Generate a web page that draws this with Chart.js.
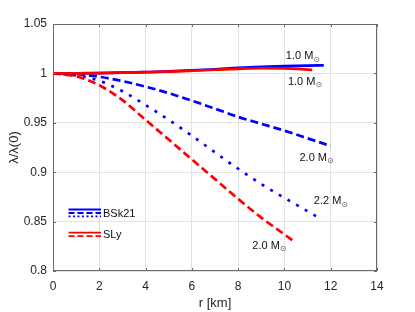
<!DOCTYPE html>
<html>
<head>
<meta charset="utf-8">
<script src="https://cdn.jsdelivr.net/npm/chart.js@4/dist/chart.umd.min.js"></script>
<style>
html,body{margin:0;padding:0;background:#fff;}
#wrap{width:415px;height:312px;}
</style>
</head>
<body>
<div id="wrap"><canvas id="c" width="415" height="312"></canvas></div>
<script>
// ---- data ----
const xTicks = [0, 2, 4, 6, 8, 10, 12, 14];
const yTicks = [0.8, 0.85, 0.9, 0.95, 1, 1.05];

const bsk10R = [0, 1, 2, 3, 4, 5, 6, 7, 8, 9, 10, 11, 11.7];
const bsk10V = [1, 1.0001, 1.0003, 1.0007, 1.0013, 1.0020, 1.0030, 1.0042, 1.0055, 1.0066, 1.0074, 1.0079, 1.0081];

const sly10R = [0, 1, 2, 3, 4, 5, 6, 7, 8, 9, 10, 10.7, 11.2];
const sly10V = [1, 1.0001, 1.0003, 1.0007, 1.0012, 1.0018, 1.0027, 1.0037, 1.0046, 1.0052, 1.0050, 1.0043, 1.0035];

const bsk20R = [0, 1, 2, 3, 4, 5, 6, 7, 8, 9, 10, 11, 12];
const bsk20V = [1, 0.9992, 0.9966, 0.9922, 0.9866, 0.9800, 0.9724, 0.9643, 0.9560, 0.9490, 0.9420, 0.9343, 0.9266];

const bsk22R = [0, 1, 2, 3, 4, 5, 6, 7, 8, 9, 10, 11, 11.4];
const bsk22V = [1, 0.9980, 0.9925, 0.9820, 0.9680, 0.9530, 0.9370, 0.9200, 0.9035, 0.8880, 0.8740, 0.8605, 0.8550];

const sly20R = [0, 1, 2, 3, 4, 5, 6, 7, 8, 9, 10, 10.46];
const sly20V = [1, 0.9970, 0.9880, 0.9730, 0.9530, 0.9330, 0.9130, 0.8930, 0.8730, 0.8540, 0.8370, 0.8290];

const curveLabels = ['1.0 M', '1.0 M', '2.0 M', '2.2 M', '2.0 M'];
const labelR = [10.80, 10.89, 11.39, 12.01, 9.35];
const labelV = [1.0175, 0.9915, 0.9148, 0.8705, 0.8255];

const legendNames = ['BSk21', 'SLy'];

// ---- helpers ----
const pts = (rs, vs) => rs.map((r, i) => ({x: r, y: vs[i]}));
const BLUE = '#0000ff', RED = '#ff0000';
const FONT = '"Liberation Sans", Arial, Helvetica, sans-serif';
const TXT = '#262626';

function ds(label, rs, vs, color, dash) {
  return {
    label, data: pts(rs, vs), borderColor: color, backgroundColor: color,
    borderWidth: 2.7, borderDash: dash, borderCapStyle: 'butt',
    pointRadius: 0, cubicInterpolationMode: 'monotone', fill: false
  };
}

const framePlugin = {
  id: 'frame',
  afterDatasetsDraw(chart) {
    const {ctx, chartArea: a, scales: {x, y}} = chart;
    ctx.save();
    ctx.strokeStyle = '#6a6a6a';
    ctx.lineWidth = 1;
    ctx.strokeRect(a.left + 0.5, a.top + 0.5, a.right - a.left - 1, a.bottom - a.top - 1);
    ctx.beginPath();
    const tl = 3;
    x.ticks.forEach(t => {
      const p = Math.round(x.getPixelForValue(t.value)) + 0.5;
      ctx.moveTo(p, a.bottom); ctx.lineTo(p, a.bottom - tl);
      ctx.moveTo(p, a.top); ctx.lineTo(p, a.top + tl);
    });
    y.ticks.forEach(t => {
      const p = Math.round(y.getPixelForValue(t.value)) + 0.5;
      ctx.moveTo(a.left, p); ctx.lineTo(a.left + tl, p);
      ctx.moveTo(a.right, p); ctx.lineTo(a.right - tl, p);
    });
    ctx.stroke();

    // curve annotations (text with solar symbol subscript)
    curveLabels.forEach((txt, i) => {
      const cx = x.getPixelForValue(labelR[i]);
      const cy = y.getPixelForValue(labelV[i]);
      ctx.font = '11px ' + FONT;
      const w1 = ctx.measureText(txt).width;
      ctx.font = '8px "DejaVu Sans", sans-serif';
      const w2 = ctx.measureText('\u2299').width;
      const sx = cx - (w1 + w2) / 2;
      ctx.fillStyle = '#111';
      ctx.textBaseline = 'middle';
      ctx.textAlign = 'left';
      ctx.font = '11px ' + FONT;
      ctx.fillText(txt, sx, cy);
      ctx.fillStyle = '#555';
      ctx.font = '8px "DejaVu Sans", sans-serif';
      ctx.fillText('\u2299', sx + w1, cy + 3.5);
    });

    // custom legend
    const lx0 = a.left + 15.5, lx1 = a.left + 48;
    const rows = [
      {y: 209.5, c: BLUE, d: []}, {y: 213, c: BLUE, d: [6, 3]}, {y: 216.3, c: BLUE, d: [2, 2.5]},
      {y: 232.7, c: RED, d: []}, {y: 236.2, c: RED, d: [6, 3]}
    ];
    ctx.lineCap = 'butt';
    rows.forEach(r => {
      ctx.beginPath();
      ctx.strokeStyle = r.c;
      ctx.lineWidth = 1.8;
      ctx.setLineDash(r.d);
      ctx.moveTo(lx0, r.y); ctx.lineTo(lx1, r.y);
      ctx.stroke();
    });
    ctx.setLineDash([]);
    ctx.fillStyle = '#111';
    ctx.font = '11px ' + FONT;
    ctx.textBaseline = 'middle';
    ctx.fillText(legendNames[0], lx1 + 2, 213.5);
    ctx.fillText(legendNames[1], lx1 + 2, 235);
    ctx.restore();
  }
};

new Chart(document.getElementById('c'), {
  type: 'line',
  data: {
    datasets: [
      ds('SLy 1.0', sly10R, sly10V, RED, []),
      ds('BSk21 1.0', bsk10R, bsk10V, BLUE, []),
      ds('SLy 2.0', sly20R, sly20V, RED, [8, 4]),
      ds('BSk21 2.0', bsk20R, bsk20V, BLUE, [8, 4]),
      ds('BSk21 2.2', bsk22R, bsk22V, BLUE, [3, 7])
    ]
  },
  options: {
    responsive: false,
    animation: false,
    layout: {padding: {left: 0, top: 24, right: 38, bottom: 0}},
    plugins: {legend: {display: false}, tooltip: {enabled: false}},
    scales: {
      x: {
        type: 'linear', min: 0, max: 14,
        afterBuildTicks: s => { s.ticks = xTicks.map(v => ({value: v})); },
        afterFit: s => { s.height = 41; },
        grid: {color: '#e3e3e3', drawTicks: false},
        border: {display: false},
        ticks: {color: TXT, font: {family: FONT, size: 12}, padding: 8, maxRotation: 0},
        title: {display: true, text: 'r [km]', color: TXT, font: {family: FONT, size: 13}, padding: {top: 0, bottom: 1}}
      },
      y: {
        type: 'linear', min: 0.8, max: 1.05,
        afterBuildTicks: s => { s.ticks = yTicks.map(v => ({value: v})); },
        afterFit: s => { s.width = 53; },
        grid: {color: '#e3e3e3', drawTicks: false},
        border: {display: false},
        ticks: {color: TXT, font: {family: FONT, size: 12}, padding: 6,
          callback: v => String(Number(v.toFixed(2)))},
        title: {display: true, text: 'λ/λ(0)', color: TXT, font: {family: FONT, size: 13}, padding: {top: 7, bottom: 0}}
      }
    }
  },
  plugins: [framePlugin]
});
</script>
</body>
</html>
